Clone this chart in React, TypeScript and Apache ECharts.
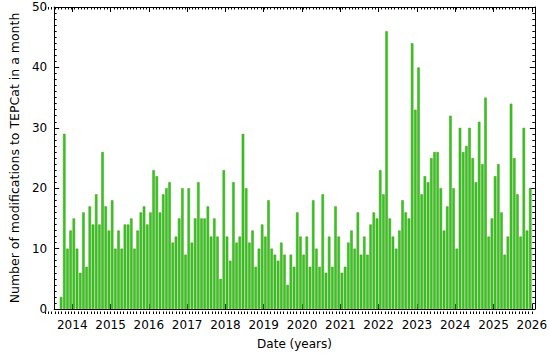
import React, { useEffect, useRef } from "react";
import * as echarts from "echarts";

// First month of the series: September 2013, one value per month up to December 2025
const firstYear = 2013;
const firstMonth = 9;

// Number of modifications to TEPCat in each month
const counts = [
  2, 29, 10, 13,
  15, 10, 6, 16, 7, 17, 14, 19, 14, 26, 17, 13,
  18, 10, 13, 10, 14, 14, 15, 10, 13, 16, 17, 14,
  16, 23, 22, 16, 19, 20, 21, 11, 12, 15, 20, 9,
  20, 11, 15, 21, 15, 15, 17, 12, 15, 12, 5, 23,
  12, 8, 21, 11, 12, 29, 20, 11, 13, 7, 10, 14,
  12, 18, 10, 9, 8, 11, 9, 4, 9, 7, 16, 12,
  9, 12, 7, 18, 10, 7, 19, 6, 12, 7, 17, 12,
  6, 7, 11, 13, 10, 16, 9, 12, 9, 14, 16, 15,
  23, 19, 46, 15, 12, 10, 13, 18, 16, 15, 44, 33,
  40, 19, 22, 21, 25, 26, 26, 20, 13, 17, 32, 20,
  10, 30, 26, 27, 30, 25, 21, 31, 24, 35, 12, 15,
  22, 24, 16, 9, 12, 34, 25, 19, 12, 30, 13, 20,
];

const yearTicks = [2014, 2015, 2016, 2017, 2018, 2019, 2020, 2021, 2022, 2023, 2024, 2025, 2026];
const xMin = 2013.528;
const xMax = 2026.08;
const yMin = 0;
const yMax = 50;
const yInterval = 10;

const FONT = "'DejaVu Sans', Verdana, sans-serif";

export default function App() {
  const ref = useRef<HTMLDivElement>(null);

  useEffect(() => {
    if (!ref.current) return;
    const chart = echarts.init(ref.current, null, { renderer: "svg" });

    const data = counts.map((v, i) => {
      const m = firstMonth - 1 + i;
      const y = firstYear + Math.floor(m / 12);
      const mm = m % 12;
      return [y + (mm + 0.5) / 12, v];
    });

    const monthTicks: number[] = [];
    for (let k = Math.ceil(xMin * 12); k / 12 <= xMax; k++) monthTicks.push(k / 12);

    const grid = { left: 43, right: 15, top: 7, bottom: 41 };

    const majorX = (position: "bottom" | "top", withLabels: boolean) => ({
      type: "value",
      gridIndex: 0,
      position,
      min: xMin,
      max: xMax,
      axisLine: { show: true, onZero: false, lineStyle: { color: "#000", width: 1 } },
      axisTick: {
        show: true,
        inside: true,
        length: 5,
        customValues: yearTicks,
        lineStyle: { color: "#000", width: 1 },
      },
      axisLabel: {
        show: withLabels,
        customValues: yearTicks,
        formatter: (v: number) => String(Math.round(v)),
        color: "#000",
        fontSize: 12,
        fontFamily: FONT,
        margin: 10,
      },
      splitLine: { show: false },
      name: withLabels ? "Date (years)" : "",
      nameLocation: "middle",
      nameGap: 29,
      nameTextStyle: { color: "#000", fontSize: 12, fontFamily: FONT },
    });

    const minorX = (position: "bottom" | "top") => ({
      type: "value",
      gridIndex: 1,
      position,
      min: xMin,
      max: xMax,
      axisLine: { show: false },
      axisTick: {
        show: true,
        inside: true,
        length: 2.5,
        customValues: monthTicks,
        lineStyle: { color: "#000", width: 1 },
      },
      axisLabel: { show: false },
      splitLine: { show: false },
    });

    const yAxisDef = (position: "left" | "right", withLabels: boolean) => ({
      type: "value",
      gridIndex: 0,
      position,
      min: yMin,
      max: yMax,
      interval: yInterval,
      axisLine: { show: true, onZero: false, lineStyle: { color: "#000", width: 1 } },
      axisTick: { show: true, inside: true, length: 5, lineStyle: { color: "#000", width: 1 } },
      minorTick: { show: true, splitNumber: 10, length: 2.5, lineStyle: { color: "#000", width: 1 } },
      axisLabel: {
        show: withLabels,
        color: "#000",
        fontSize: 12,
        fontFamily: FONT,
        margin: 7,
      },
      splitLine: { show: false },
      minorSplitLine: { show: false },
      name: withLabels ? "Number of modifications to TEPCat in a month" : "",
      nameLocation: "middle",
      nameGap: 28,
      nameTextStyle: { color: "#000", fontSize: 12.5, fontFamily: FONT },
    });

    chart.setOption({
      animation: false,
      backgroundColor: "#fff",
      grid: [grid, grid],
      xAxis: [majorX("bottom", true), majorX("top", false), minorX("bottom"), minorX("top")],
      yAxis: [
        yAxisDef("left", true),
        yAxisDef("right", false),
        { type: "value", gridIndex: 1, min: yMin, max: yMax, show: false },
      ],
      series: [
        {
          type: "bar",
          name: "Modifications",
          xAxisIndex: 0,
          yAxisIndex: 0,
          data,
          barWidth: 2.6,
          itemStyle: {
            color: "#1fd21f",
            borderColor: "#6b8e23",
            borderWidth: 0.5,
          },
          emphasis: { disabled: true },
        },
      ],
    });

    return () => chart.dispose();
  }, []);

  return (
    <div
      ref={ref}
      style={{ position: "fixed", left: 0, top: 0, width: 550, height: 355, background: "#fff" }}
    />
  );
}
